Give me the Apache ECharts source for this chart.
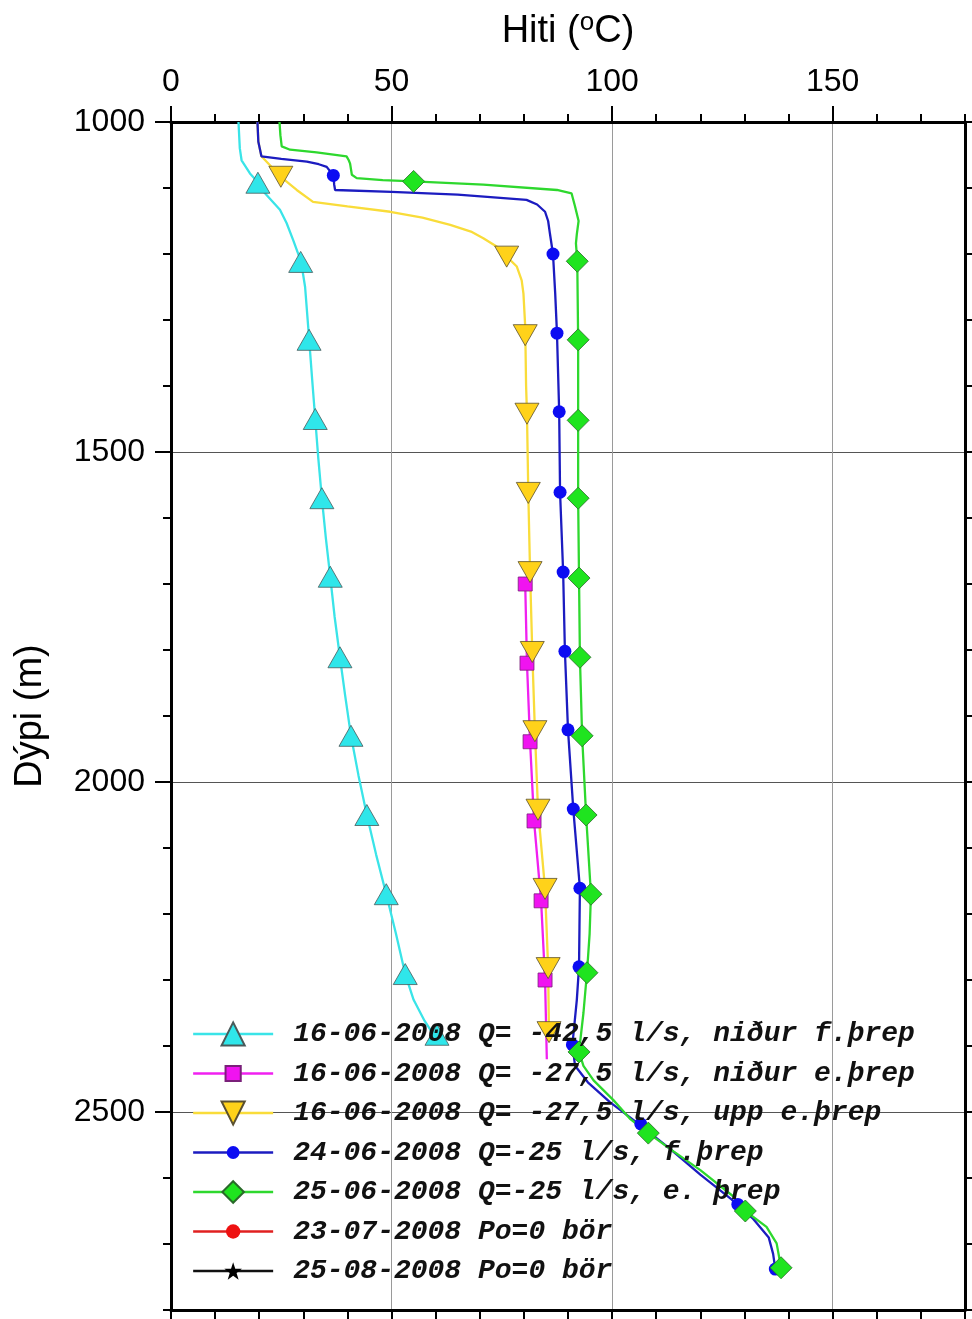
<!DOCTYPE html>
<html>
<head>
<meta charset="utf-8">
<script src="https://cdn.jsdelivr.net/npm/echarts@6/dist/echarts.min.js"></script>
<style>
html,body{margin:0;padding:0;background:#fff;}
#chart{width:972px;height:1319px;}
</style>
</head>
<body>
<div id="chart"></div>
<script>
// ---------- Data (temperature °C, depth m) ----------
const seriesNames = [
  '16-06-2008 Q= -42,5 l/s, niður f.þrep',
  '16-06-2008 Q= -27,5 l/s, niður e.þrep',
  '16-06-2008 Q= -27,5 l/s, upp e.þrep',
  '24-06-2008 Q=-25 l/s, f.þrep',
  '25-06-2008 Q=-25 l/s, e. þrep',
  '23-07-2008 Po=0 bör',
  '25-08-2008 Po=0 bör'
];

// line traces [temperature, depth]
const cyanLine = [[15.3,1000],[15.6,1040],[16.0,1058],[17.9,1078],[19.8,1092],[21.3,1108],[24.7,1133],[26.2,1153],[27.7,1179],[29.5,1212],[30.4,1250],[31.1,1310],[32.0,1390],[32.7,1450],[33.4,1510],[34.2,1570],[35.1,1630],[36.1,1689],[37.1,1750],[38.3,1811],[39.5,1870],[40.8,1930],[42.5,1990],[44.4,2050],[46.5,2110],[48.8,2170],[51.0,2230],[53.1,2291],[55.0,2330],[57.5,2362],[60.5,2393]];
const cyanMarks = [[19.7,1092],[29.4,1212],[31.3,1330],[32.7,1450],[34.2,1570],[36.1,1689],[38.3,1811],[40.8,1930],[44.4,2050],[48.8,2170],[53.1,2291],[60.3,2383]];

const magentaLine = [[80.2,1695],[80.3,1700],[80.7,1820],[81.4,1939],[82.3,2059],[83.9,2180],[84.8,2300],[85.2,2420]];
const magentaMarks = [[80.3,1700],[80.7,1820],[81.4,1939],[82.3,2059],[83.9,2180],[84.8,2300]];

const yellowLine = [[19.6,1000],[19.8,1030],[20.5,1052],[24.9,1083],[28.5,1103],[32.2,1121],[40.0,1128],[49.7,1136],[57.0,1145],[63.3,1156],[68.0,1166],[70.8,1176],[73.9,1189],[76.1,1204],[78.4,1219],[79.5,1240],[79.9,1260],[80.3,1310],[80.5,1400],[80.7,1442],[81.0,1562],[81.4,1682],[81.9,1803],[82.5,1923],[83.2,2042],[84.8,2162],[85.5,2282],[85.7,2390]];
const yellowMarks = [[24.9,1083],[76.1,1204],[80.3,1323],[80.7,1442],[81.0,1562],[81.4,1682],[81.9,1803],[82.5,1923],[83.2,2042],[84.8,2162],[85.5,2282],[85.7,2379]];

const blueLine = [[19.6,1000],[19.8,1030],[20.5,1052],[25.0,1056],[30.8,1060],[33.5,1064],[35.3,1068],[36.8,1081],[37.0,1095],[37.2,1103],[50.0,1106],[65.0,1110],[80.6,1118],[83.0,1125],[84.8,1136],[85.5,1150],[85.9,1169],[86.6,1200],[87.1,1260],[87.5,1320],[88.0,1439],[88.2,1561],[88.9,1682],[89.3,1802],[90.0,1921],[91.2,2041],[92.7,2161],[92.6,2220],[92.5,2280],[92.0,2330],[91.0,2398],[91.6,2430],[94.5,2455],[99.5,2485],[106.0,2518],[113.0,2555],[120.0,2595],[127.0,2632],[132.0,2662],[135.5,2690],[136.5,2715],[137.0,2738]];
const blueMarks = [[36.8,1081],[86.6,1200],[87.5,1320],[88.0,1439],[88.2,1561],[88.9,1682],[89.3,1802],[90.0,1921],[91.2,2041],[92.7,2161],[92.5,2280],[91.0,2398],[106.5,2518],[128.5,2640],[137.0,2738]];

const greenLine = [[24.6,1000],[24.8,1020],[25.1,1037],[27.0,1042],[33.0,1046],[39.8,1052],[40.3,1058],[40.6,1063],[41.0,1080],[42.1,1085],[48.0,1088],[55.0,1090],[70.8,1095],[87.5,1103],[90.8,1108],[91.6,1128],[92.4,1150],[92.0,1170],[91.8,1184],[92.1,1211],[92.3,1330],[92.3,1452],[92.3,1570],[92.5,1691],[92.7,1811],[93.2,1930],[94.1,2050],[95.2,2170],[94.9,2230],[94.3,2289],[93.5,2350],[92.5,2409],[93.5,2430],[95.8,2452],[100.3,2482],[104.0,2510],[108.2,2532],[114.0,2560],[120.0,2588],[127.5,2628],[130.2,2650],[135.0,2674],[137.3,2699],[138.3,2736]];
const greenMarks = [[55.0,1090],[92.1,1211],[92.3,1330],[92.3,1452],[92.3,1570],[92.5,1691],[92.7,1811],[93.2,1930],[94.1,2050],[95.2,2170],[94.3,2289],[92.5,2409],[108.2,2532],[130.2,2650],[138.3,2736]];

const redLine = [];
const blackLine = [];

const xTickLabels = [0, 50, 100, 150];
const yTickLabels = [1000, 1500, 2000, 2500];

// ---------- Styling ----------
const X_MIN = 0, X_MAX = 180, Y_MIN = 1000, Y_MAX = 2800;
const axisFont = 'Liberation Sans, Arial, Helvetica, sans-serif';
const legendFont = 'Liberation Mono, Courier New, monospace';

const styles = [
  {line: cyanLine, marks: cyanMarks, color: '#2fe6ea', lineColor: '#3ae4e8', symbol: 'triangle', size: [24, 21], rot: 0, border: '#4a5a5a', legH: 29},
  {line: magentaLine, marks: magentaMarks, color: '#f013f0', lineColor: '#f020f0', symbol: 'rect', size: [14, 14], rot: 0, border: '#7a207a', legH: 19},
  {line: yellowLine, marks: yellowMarks, color: '#ffd21a', lineColor: '#f9dc3a', symbol: 'triangle', size: [24, 21], rot: 180, border: '#5a5030', legH: 29},
  {line: blueLine, marks: blueMarks, color: '#0c0cf2', lineColor: '#1c1cc0', symbol: 'circle', size: [13, 13], rot: 0, border: null, legH: 16},
  {line: greenLine, marks: greenMarks, color: '#1fe41f', lineColor: '#2ed82e', symbol: 'diamond', size: [22, 22], rot: 0, border: '#2a6a2a', legH: 27},
  {line: redLine, marks: [], color: '#ee1111', lineColor: '#e02020', symbol: 'circle', size: [14, 14], rot: 0, border: null, legH: 18},
  {line: blackLine, marks: [], color: '#000000', lineColor: '#111111', symbol: 'path://M50,0 L61.8,35.1 L99,35.1 L69,57.3 L80.3,92.7 L50,70.9 L19.7,92.7 L31,57.3 L1,35.1 L38.2,35.1 Z', size: [17, 17], rot: 0, border: null, legH: 22}
];

const series = [];
styles.forEach((s, i) => {
  const itemStyle = {color: s.color, opacity: 1};
  if (s.border) { itemStyle.borderColor = s.border; itemStyle.borderWidth = 0.8; }
  series.push({
    name: seriesNames[i], type: 'line', xAxisIndex: 0, yAxisIndex: 0,
    data: s.line, showSymbol: false, symbol: s.symbol, symbolRotate: s.rot, symbolSize: s.size,
    lineStyle: {color: s.lineColor, width: 2.3}, itemStyle: itemStyle,
    animation: false, silent: true, z: 2 + i * 0.01
  });
  series.push({
    name: seriesNames[i], type: 'scatter', xAxisIndex: 0, yAxisIndex: 0,
    data: s.marks, symbol: s.symbol, symbolRotate: s.rot, symbolSize: s.size,
    itemStyle: itemStyle, animation: false, silent: true, z: 3 + i * 0.01
  });
});

const legendCenters = [1034, 1073.5, 1113, 1152.5, 1192, 1231.5, 1271];
const legends = seriesNames.map((n, i) => ({
  data: [n], orient: 'vertical', left: 192, top: legendCenters[i] - 15,
  padding: 0, itemWidth: 80, itemHeight: styles[i].legH, selectedMode: false,
  inactiveColor: '#000',
  lineStyle: {width: 2.3},
  textStyle: {fontFamily: legendFont, fontSize: 28, fontStyle: 'italic', fontWeight: 'bold', color: '#111', lineHeight: 30, padding: [0, 0, 0, 15]}
}));

function minorX(pos) {
  return {type: 'value', position: pos, min: X_MIN, max: X_MAX, interval: 10,
    axisLine: {show: true, onZero: false, lineStyle: {color: '#000', width: 3}},
    axisTick: {show: true, inside: false, length: pos === 'top' ? 8 : 10, lineStyle: {color: '#000', width: 2}},
    axisLabel: {show: false}, splitLine: {show: false}};
}
function minorY(pos) {
  return {type: 'value', position: pos, inverse: true, min: Y_MIN, max: Y_MAX, interval: 100,
    axisLine: {show: true, onZero: false, lineStyle: {color: '#000', width: 3}},
    axisTick: {show: true, inside: false, length: 8, lineStyle: {color: '#000', width: 2}},
    axisLabel: {show: false}, splitLine: {show: false}};
}

const option = {
  backgroundColor: '#fff',
  animation: false,
  grid: {left: 171, right: 7, top: 122, bottom: 9, containLabel: false},
  legend: legends,
  xAxis: [
    minorX('top'),
    {type: 'value', position: 'top', min: X_MIN, max: X_MAX, interval: 50,
      name: '{a|Hiti (}{s|o}{a|C)}', nameLocation: 'middle', nameGap: 68,
      nameTextStyle: {rich: {
        a: {fontFamily: axisFont, fontSize: 38, lineHeight: 44, color: '#000'},
        s: {fontFamily: axisFont, fontSize: 26, lineHeight: 26, color: '#000', verticalAlign: 'top', padding: [0, 0, 18, 0]}
      }},
      axisLine: {show: false, onZero: false},
      axisTick: {show: true, length: 16, customValues: xTickLabels, lineStyle: {color: '#000', width: 2}},
      axisLabel: {show: true, customValues: xTickLabels, formatter: v => String(v), fontFamily: axisFont, fontSize: 32, color: '#000', margin: 24},
      splitLine: {show: true, lineStyle: {color: '#9a9a9a', width: 1}}},
    minorX('bottom')
  ],
  yAxis: [
    minorY('left'),
    {type: 'value', position: 'left', inverse: true, min: Y_MIN, max: Y_MAX, interval: 500,
      name: 'Dýpi (m)', nameLocation: 'middle', nameGap: 121, nameRotate: 90,
      nameTextStyle: {fontFamily: axisFont, fontSize: 38, color: '#000'},
      axisLine: {show: false, onZero: false},
      axisTick: {show: true, length: 16, customValues: yTickLabels, lineStyle: {color: '#000', width: 2}},
      axisLabel: {show: true, customValues: yTickLabels, formatter: v => String(v), fontFamily: axisFont, fontSize: 32, color: '#000', margin: 26},
      splitLine: {show: true, lineStyle: {color: '#555', width: 1}}},
    minorY('right')
  ],
  series: series
};

const chart = echarts.init(document.getElementById('chart'), null, {renderer: 'canvas'});
chart.setOption(option);
</script>
</body>
</html>
